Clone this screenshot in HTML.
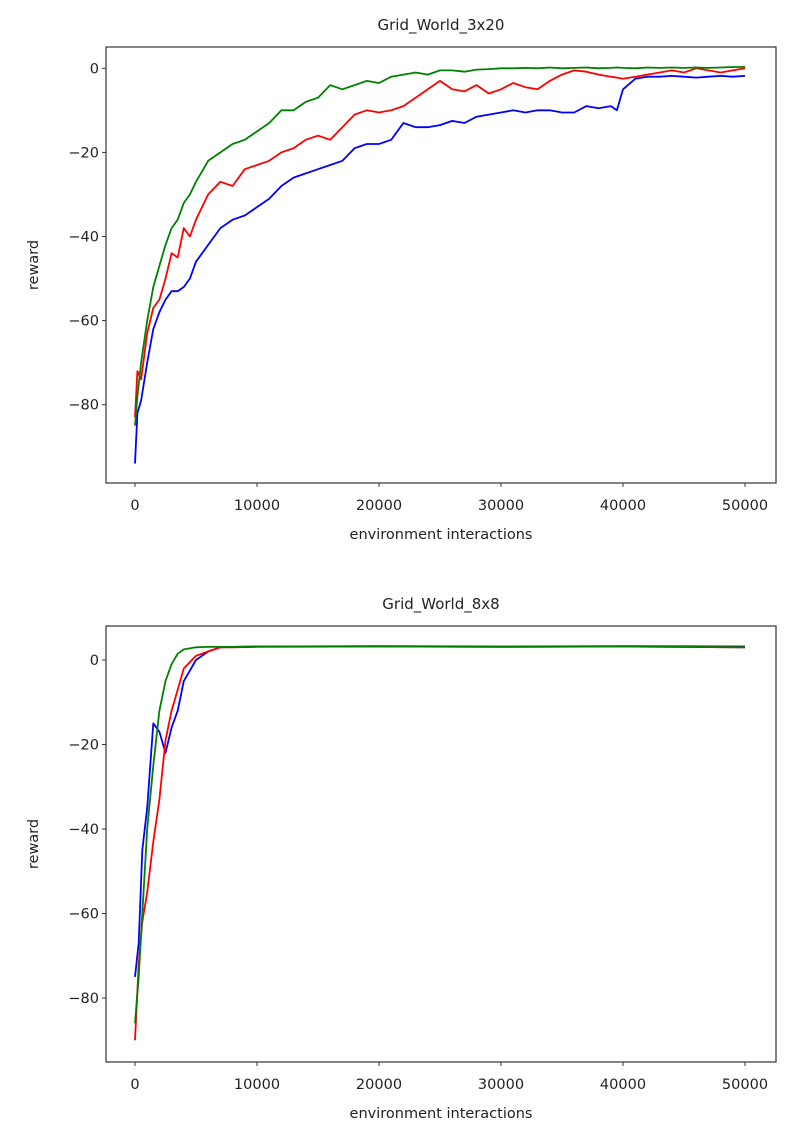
<!DOCTYPE html>
<html><head><meta charset="utf-8">
<style>
html,body{margin:0;padding:0;background:#fff;}
svg{display:block;font-family:"DejaVu Sans","Liberation Sans",sans-serif;}
</style></head>
<body>
<svg id="svg" width="808" height="1128" viewBox="0 0 808 1128" xmlns="http://www.w3.org/2000/svg"></svg>
<script>
// ---- data: Grid_World_3x20 ----
const topX = [0,200,500,1000,1500,2000,2500,3000,3500,4000,4500,5000,6000,7000,8000,9000,10000,11000,12000,13000,14000,15000,16000,17000,18000,19000,20000,21000,22000,23000,24000,25000,26000,27000,28000,29000,30000,31000,32000,33000,34000,35000,36000,37000,38000,39000,39500,40000,41000,42000,43000,44000,45000,46000,47000,48000,49000,50000];
const topGreen = [-85,-78,-70,-60,-52,-47,-42,-38,-36,-32,-30,-27,-22,-20,-18,-17,-15,-13,-10,-10,-8,-7,-4,-5,-4,-3,-3.5,-2,-1.5,-1,-1.5,-0.5,-0.5,-0.8,-0.3,-0.2,0,0,0.1,0,0.2,0,0.1,0.2,0,0.1,0.2,0.1,0,0.2,0.1,0.2,0.1,0.2,0.1,0.2,0.3,0.3];
const topRed = [-83,-72,-74,-63,-57,-55,-50,-44,-45,-38,-40,-36,-30,-27,-28,-24,-23,-22,-20,-19,-17,-16,-17,-14,-11,-10,-10.5,-10,-9,-7,-5,-3,-5,-5.5,-4,-6,-5,-3.5,-4.5,-5,-3,-1.5,-0.5,-0.8,-1.5,-2,-2.2,-2.5,-2,-1.5,-1,-0.5,-1,0,-0.5,-1,-0.5,0];
const topBlue = [-94,-82,-79,-70,-62,-58,-55,-53,-53,-52,-50,-46,-42,-38,-36,-35,-33,-31,-28,-26,-25,-24,-23,-22,-19,-18,-18,-17,-13,-14,-14,-13.5,-12.5,-13,-11.5,-11,-10.5,-10,-10.5,-10,-10,-10.5,-10.5,-9,-9.5,-9,-10,-5,-2.5,-2,-2,-1.8,-2,-2.2,-2,-1.8,-2,-1.8];
// ---- data: Grid_World_8x8 ----
const botX = [0,300,600,1000,1500,2000,2500,3000,3500,4000,5000,6000,7000,8000,10000,20000,30000,40000,50000];
const botGreen = [-86,-75,-60,-40,-25,-12,-5,-1,1.5,2.5,3,3.1,3.1,3.1,3.2,3.2,3.1,3.2,3];
const botRed = [-90,-72,-62,-55,-43,-33,-19,-12,-7,-2,1,2,3,3,3.1,3.2,3.1,3.2,3];
const botBlue = [-75,-67,-45,-35,-15,-17,-22,-16,-12,-5,0,2,3,3.1,3.2,3.3,3.2,3.3,3.2];
const yTicks = [0,-20,-40,-60,-80];
const xTicks = [0,10000,20000,30000,40000,50000];

const NS="http://www.w3.org/2000/svg";
const svg=document.getElementById('svg');
function mk(tag,attrs,parent){const e=document.createElementNS(NS,tag);for(const k in attrs)e.setAttribute(k,attrs[k]);(parent||svg).appendChild(e);return e;}

function chart(cfg){
  const g=mk('g',{});
  
  
  const sx=v=>135+(v/10000)*122;
  const sy=v=>cfg.y0+(-v/20)*cfg.dy;
  const t=mk('text',{x:(cfg.left+cfg.right)/2,y:cfg.top-17,'text-anchor':'middle','font-size':15,fill:'#222'},g);
  t.textContent=cfg.title;
  
  
  const series=[[cfg.g,'#008000','green-series'],[cfg.r,'#ff0000','red-series'],[cfg.b,'#0000ff','blue-series']];
  cfg.order.forEach(i=>{
    const [ys,c,n]=series[i];
    const d=cfg.x.map((x,j)=>(j?'L':'M')+sx(x).toFixed(1)+','+sy(ys[j]).toFixed(1)).join(' ');
    const p=mk('path',{d:d,fill:'none',stroke:c,'stroke-width':1.8,'stroke-linejoin':'round'},g);
    
    
  });
  const box=mk('rect',{x:cfg.left,y:cfg.top,width:cfg.right-cfg.left,height:cfg.bottom-cfg.top,fill:'none',stroke:'#333','stroke-width':1.2},g);
  
  
  yTicks.forEach(v=>{
    const y=sy(v);
    mk('line',{x1:cfg.left-4,x2:cfg.left,y1:y,y2:y,stroke:'#333','stroke-width':1},g);
    const tx=mk('text',{x:cfg.left-7,y:y+5,'text-anchor':'end','font-size':14.5,fill:'#222'},g);
    tx.textContent=v===0?'0':'\u2212'+Math.abs(v);
    
    
  });
  xTicks.forEach(v=>{
    const x=sx(v);
    mk('line',{x1:x,x2:x,y1:cfg.bottom,y2:cfg.bottom+4,stroke:'#333','stroke-width':1},g);
    const tx=mk('text',{x:x,y:cfg.bottom+27,'text-anchor':'middle','font-size':14.5,fill:'#222'},g);
    tx.textContent=String(v);
    
    
  });
  const xl=mk('text',{x:(cfg.left+cfg.right)/2,y:cfg.bottom+56,'text-anchor':'middle','font-size':14.5,fill:'#222'},g);
  xl.textContent='environment interactions';
  
  
  const cy=(cfg.top+cfg.bottom)/2;
  const yl=mk('text',{x:38,y:cy,'text-anchor':'middle','font-size':14.5,fill:'#222',transform:'rotate(-90 38 '+cy+')'},g);
  yl.textContent='reward';
  
  
}
chart({name:'chart-grid-world-3x20',title:'Grid_World_3x20',left:106,right:776,top:47,bottom:483,y0:68.3,dy:84.1,x:topX,g:topGreen,r:topRed,b:topBlue,order:[2,1,0]});
chart({name:'chart-grid-world-8x8',title:'Grid_World_8x8',left:106,right:776,top:626,bottom:1062,y0:660,dy:84.5,x:botX,g:botGreen,r:botRed,b:botBlue,order:[2,1,0]});
</script>
</body></html>
